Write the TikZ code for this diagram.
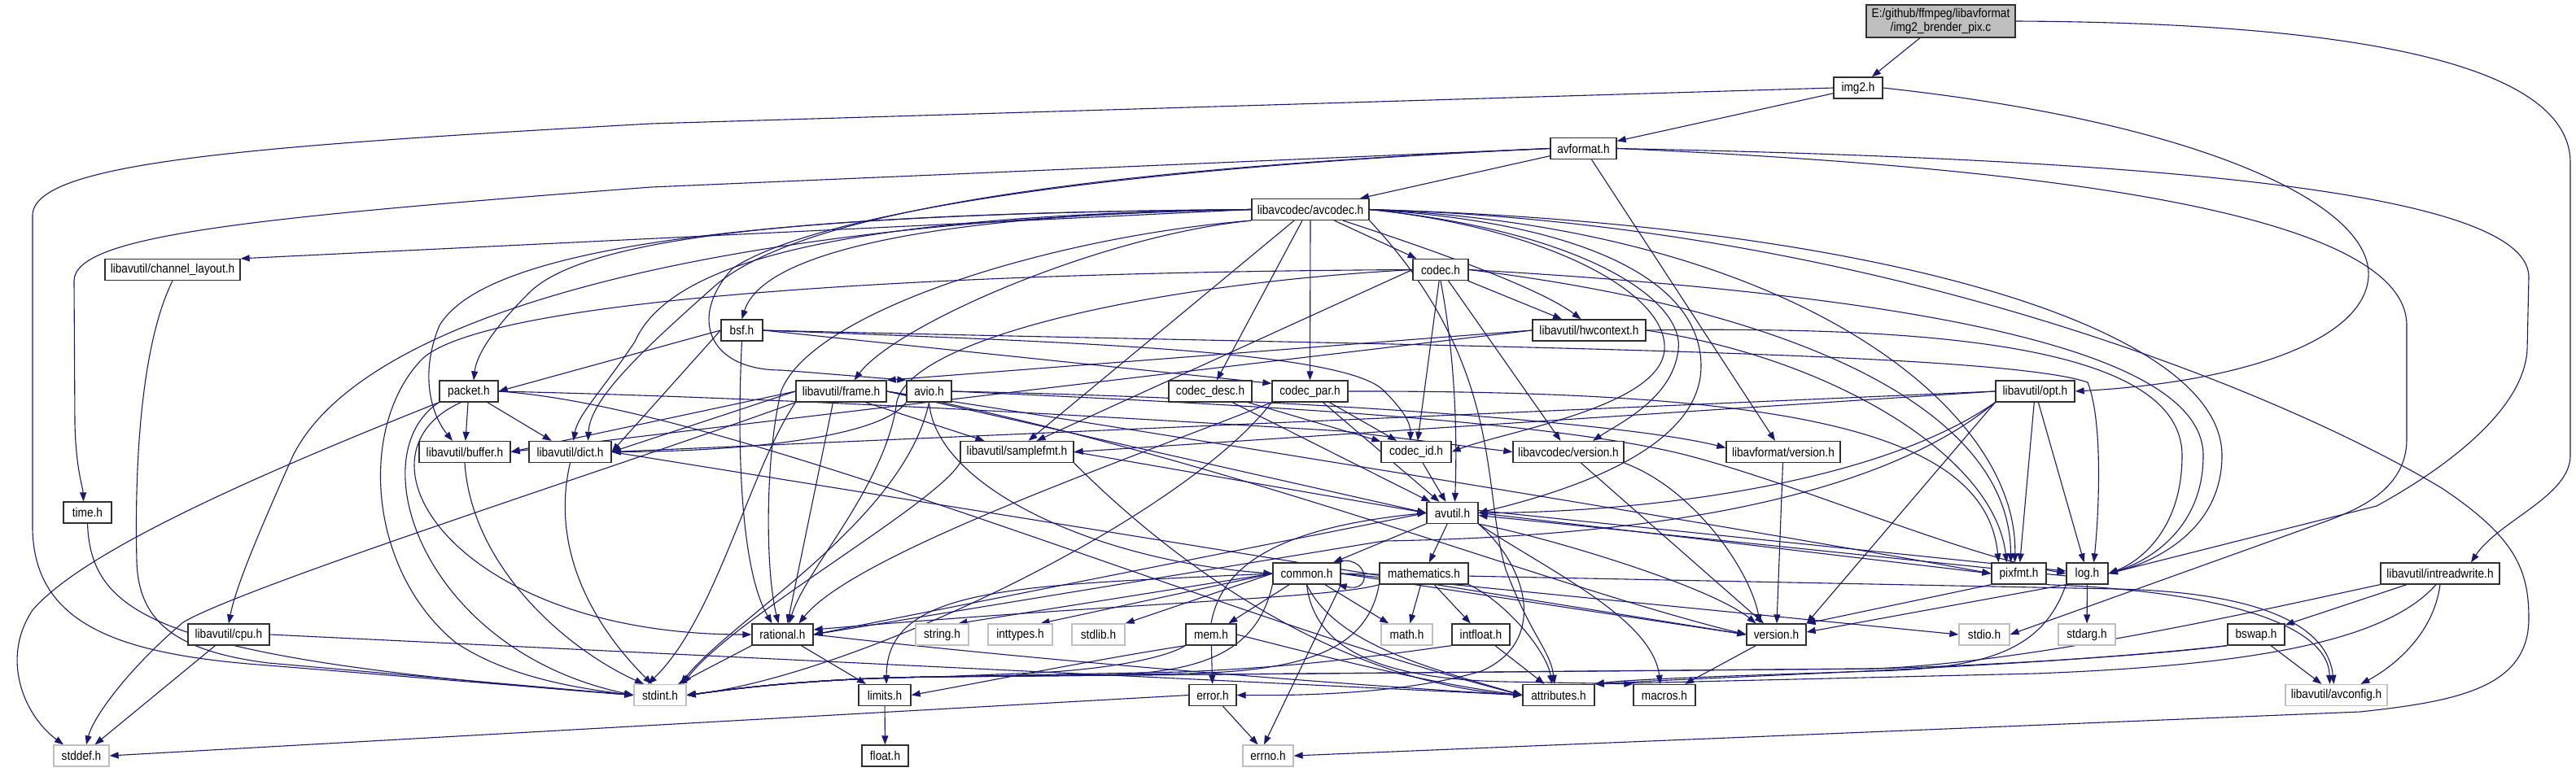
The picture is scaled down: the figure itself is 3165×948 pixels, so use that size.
\documentclass[tikz,border=0pt]{standalone}
\usepackage{fontspec}
\setmainfont{Liberation Sans}[FakeStretch=0.88]
\usetikzlibrary{arrows.meta}
\definecolor{edgec}{HTML}{191970}
\definecolor{greyc}{HTML}{BFBFBF}
\definecolor{boxc}{HTML}{303030}
\pgfdeclarelayer{bg}
\pgfdeclarelayer{edges}
\pgfsetlayers{bg,edges,main}
\begin{document}
\begin{tikzpicture}[x=1pt,y=-1pt,
  nbox/.style={draw=boxc, line width=1.3pt, fill=white, minimum height=26pt, inner sep=0pt, font=\fontsize{15.5}{17}\selectfont},
  xbox/.style={nbox, draw=greyc},
  ar/.style={draw=edgec, line width=1.1pt, -{Triangle[length=11pt,width=8pt]}}]
\begin{pgfonlayer}{bg}
\fill[white] (0,0) rectangle (3165,948);
\end{pgfonlayer}
\useasboundingbox (0,0) rectangle (3165,948);
% ---------------- nodes
\node[nbox, fill=greyc, align=center, minimum width=183pt, minimum height=40pt] (main) at (2384.5,26) {E:/github/ffmpeg/libavformat\\/img2\_brender\_pix.c};
\node[nbox, minimum width=60pt] (img2) at (2283,108) {img2.h};
\node[nbox, minimum width=81pt] (avformat) at (1945.5,182.5) {avformat.h};
\node[nbox, minimum width=144pt] (avcodec) at (1610,257.5) {libavcodec/avcodec.h};
\node[nbox, minimum width=166pt] (chl) at (212,331.5) {libavutil/channel\_layout.h};
\node[nbox, minimum width=68pt] (codec) at (1770,331.5) {codec.h};
\node[nbox, minimum width=51pt] (bsf) at (911.5,406) {bsf.h};
\node[nbox, minimum width=139pt] (hwctx) at (1952.5,406) {libavutil/hwcontext.h};
\node[nbox, minimum width=72pt] (packet) at (576,481) {packet.h};
\node[nbox, minimum width=111pt] (frame) at (1033.5,481) {libavutil/frame.h};
\node[nbox, minimum width=55pt] (avio) at (1141.5,481) {avio.h};
\node[nbox, minimum width=102pt] (cdesc) at (1487,481) {codec\_desc.h};
\node[nbox, minimum width=93pt] (cpar) at (1609.5,481) {codec\_par.h};
\node[nbox, minimum width=97pt] (opt) at (2500.5,481) {libavutil/opt.h};
\node[nbox, minimum width=112pt] (buffer) at (571,555.5) {libavutil/buffer.h};
\node[nbox, minimum width=101pt] (dict) at (700.5,555.5) {libavutil/dict.h};
\node[nbox, minimum width=139pt] (sfmt) at (1249.5,555.5) {libavutil/samplefmt.h};
\node[nbox, minimum width=86pt] (cid) at (1740,555.5) {codec\_id.h};
\node[nbox, minimum width=136pt] (lcver) at (1927,555.5) {libavcodec/version.h};
\node[nbox, minimum width=140pt] (lfver) at (2191,555.5) {libavformat/version.h};
\node[nbox, minimum width=59pt] (timeh) at (107.5,630) {time.h};
\node[nbox, minimum width=63pt] (avutil) at (1784.5,630.5) {avutil.h};
\node[nbox, minimum width=83pt] (common) at (1605.5,705) {common.h};
\node[nbox, minimum width=109pt] (mathh) at (1749.5,705) {mathematics.h};
\node[nbox, minimum width=67pt] (pixfmt) at (2480.5,705) {pixfmt.h};
\node[nbox, minimum width=51pt] (logh) at (2564.5,705) {log.h};
\node[nbox, minimum width=146pt] (irw) at (2998,705) {libavutil/intreadwrite.h};
\node[nbox, minimum width=100pt] (cpu) at (281,780) {libavutil/cpu.h};
\node[nbox, minimum width=75pt] (rational) at (961.5,780) {rational.h};
\node[xbox, minimum width=65pt] (stringh) at (1157.5,780) {string.h};
\node[xbox, minimum width=79pt] (inttypes) at (1253.5,780) {inttypes.h};
\node[xbox, minimum width=65pt] (stdlib) at (1349.5,780) {stdlib.h};
\node[nbox, minimum width=62pt] (mem) at (1488,780) {mem.h};
\node[xbox, minimum width=63pt] (mathsys) at (1728.5,780) {math.h};
\node[nbox, minimum width=71pt] (intfloat) at (1819.5,780) {intfloat.h};
\node[nbox, minimum width=73pt] (version) at (2182.5,780) {version.h};
\node[xbox, minimum width=62pt] (stdio) at (2438,780) {stdio.h};
\node[xbox, minimum width=70pt] (stdarg) at (2564,780) {stdarg.h};
\node[nbox, minimum width=70pt] (bswap) at (2772,780) {bswap.h};
\node[xbox, minimum width=64pt] (stdint) at (811,854.5) {stdint.h};
\node[nbox, minimum width=64pt] (limits) at (1087,854.5) {limits.h};
\node[nbox, minimum width=58pt] (errorh) at (1490,854.5) {error.h};
\node[nbox, minimum width=88pt] (attr) at (1915,854.5) {attributes.h};
\node[nbox, minimum width=76pt] (macros) at (2045,854.5) {macros.h};
\node[xbox, minimum width=125pt] (avconfig) at (2870.5,854.5) {libavutil/avconfig.h};
\node[xbox, minimum width=68pt] (stddef) at (100,929) {stddef.h};
\node[nbox, minimum width=57pt] (floath) at (1087.5,929) {float.h};
\node[xbox, minimum width=62pt] (errno) at (1558,929) {errno.h};
% ---------------- edges
\begin{pgfonlayer}{edges}
% main
\draw[ar] (main) -- (img2);
\draw[ar] (main.east) .. controls (2900,28) and (3158,80) .. (3158,200) -- (3158,560) .. controls (3158,610) and (3070,640) .. ([xshift=38pt]irw.north);
% img2
\draw[ar] (img2) -- (avformat);
\draw[ar] (img2.west) -- (800,152) .. controls (300,180) and (40,200) .. (40,265) -- (40,650) .. controls (42,770) and (150,805) .. (330,818) -- (stdint.west);
\draw[ar] (img2.east) .. controls (2700,150) and (2915,250) .. (2910,340) .. controls (2905,420) and (2750,470) .. (opt.east);
% avformat
\draw[ar] (avformat) -- (avcodec);
\draw[ar] ([xshift=10pt]avformat.south) -- ([xshift=-10pt]lfver.north);
\draw[ar] (avformat.west) -- (800,230) .. controls (300,268) and (92,290) .. (91,345) -- (92,520) .. controls (93,575) and (102,600) .. ([xshift=-5pt]timeh.north);
\draw[ar] (avformat.west) .. controls (1400,205) and (1000,250) .. (880,350) .. controls (790,430) and (725,490) .. ([xshift=22pt]dict.north);
\draw[ar] (avformat.west) .. controls (1300,210) and (990,270) .. (900,330) .. controls (845,390) and (870,455) .. (960,455) -- (avio.north west);
\draw[ar] (avformat.east) .. controls (2600,195) and (3105,230) .. (3107,340) -- (3105,430) .. controls (3100,520) and (2960,600) .. (2920,622) -- (logh.east);
\draw[ar] (avformat.east) .. controls (2500,205) and (2957,260) .. (2957,400) -- (2957,540) .. controls (2957,600) and (2900,625) .. (2860,640) -- (stdio.east);
% avcodec
\draw[ar] (avcodec.east) .. controls (2300,275) and (2800,480) .. (3000,600) .. controls (3090,660) and (3107,700) .. (3107,760) .. controls (3107,845) and (3020,862) .. (2900,875) -- (errno.east);
\draw[ar] (avcodec.south) -- (cpar.north);
\draw[ar] (avcodec) -- (codec);
\draw[ar] ([xshift=-10pt]avcodec.south) -- ([xshift=8pt]cdesc.north);
\draw[ar] ([xshift=-20pt]avcodec.south) -- ([xshift=14pt]sfmt.north);
\draw[ar] (avcodec.west) -- (chl.north east);
\draw[ar] (avcodec.south west) .. controls (1350,290) and (1100,400) .. ([xshift=16pt]frame.north);
\draw[ar] (avcodec.west) .. controls (1200,262) and (940,300) .. (bsf.north);
\draw[ar] (avcodec.west) .. controls (1000,262) and (720,290) .. (650,360) .. controls (600,410) and (585,440) .. ([xshift=6pt]packet.north);
\draw[ar] (avcodec.west) .. controls (950,262) and (600,300) .. (540,400) .. controls (515,460) and (530,510) .. ([xshift=-15pt]buffer.north);
\draw[ar] (avcodec.west) .. controls (1000,265) and (820,330) .. (780,420) .. controls (740,480) and (710,510) .. ([xshift=4pt]dict.north);
\draw[ar] (avcodec.west) .. controls (900,270) and (450,380) .. (360,560) .. controls (320,650) and (290,720) .. (cpu.north);
\draw[ar] (avcodec.south west) .. controls (1300,290) and (1000,380) .. (960,480) .. controls (940,560) and (940,700) .. ([xshift=-5pt]rational.north);
\draw[ar] ([xshift=40pt]avcodec.south) .. controls (1800,320) and (1900,360) .. ([xshift=-10pt]hwctx.north);
\draw[ar] (avcodec.east) .. controls (1900,280) and (2050,360) .. (2045,430) .. controls (2040,500) and (1850,530) .. (cid.east);
\draw[ar] (avcodec.east) .. controls (1950,285) and (2070,370) .. (2062,430) .. controls (2055,490) and (1990,520) .. ([xshift=30pt]lcver.north);
\draw[ar] (avcodec.east) .. controls (1960,275) and (2090,350) .. (2090,450) .. controls (2090,560) and (1900,610) .. (avutil.east);
\draw[ar] (avcodec.south east) .. controls (1850,450) and (1820,600) .. (1850,700) .. controls (1880,780) and (1905,800) .. ([xshift=-5pt]attr.north);
\draw[ar] (avcodec.east) .. controls (2300,275) and (2730,400) .. (2730,560) .. controls (2730,650) and (2650,690) .. (logh.east);
\draw[ar] (avcodec.east) .. controls (2200,280) and (2480,500) .. ([xshift=-5pt]pixfmt.north);
% codec
\draw[ar] (codec) -- (hwctx);
\draw[ar] (codec) -- (cid);
\draw[ar] (codec) -- (lcver);
\draw[ar] (codec.south) .. controls (1790,450) and (1790,550) .. ([xshift=3pt]avutil.north);
\draw[ar] (codec.west) -- ([xshift=24pt]sfmt.north);
\draw[ar] (codec.west) .. controls (1100,335) and (600,370) .. (520,440) .. controls (440,520) and (450,700) .. (560,790) .. controls (620,830) and (700,845) .. (stdint.west);
\draw[ar] (codec.west) .. controls (1400,350) and (1105,420) .. (1101,500) .. controls (1085,600) and (990,700) .. ([xshift=8pt]rational.north);
\draw[ar] (codec.east) .. controls (2300,360) and (2707,420) .. (2707,560) .. controls (2707,650) and (2640,690) .. (logh.east);
\draw[ar] (codec.east) .. controls (2200,380) and (2470,500) .. ([xshift=-10pt]pixfmt.north);
% codec_desc, codec_par, codec_id
\draw[ar] (cdesc) -- (avutil);
\draw[ar] (cdesc) -- (cid);
\draw[ar] (cpar) -- (cid);
\draw[ar] (cpar) -- (avutil);
\draw[ar] (cpar.east) .. controls (2200,480) and (2440,530) .. ([xshift=-25pt]pixfmt.north);
\draw[ar] (cpar.south west) .. controls (1400,560) and (1050,680) .. ([xshift=20pt]rational.north);
\draw[ar] (cpar.south west) .. controls (1450,640) and (1050,830) .. (stdint.east);
\draw[ar] (cid) -- (avutil);
% bsf
\draw[ar] (bsf.west) -- (packet.east);
\draw[ar] (bsf.west) -- (dict.east);
\draw[ar] (bsf.south) .. controls (905,550) and (910,700) .. ([xshift=-13pt]rational.north);
\draw[ar] (bsf.east) -- ([yshift=-4pt]cpar.north west);
\draw[ar] (bsf.east) .. controls (1300,420) and (1650,430) .. (1700,480) .. controls (1725,505) and (1733,520) .. ([xshift=-7pt]cid.north);
\draw[ar] (bsf.east) .. controls (1700,425) and (2450,430) .. (2565,470) .. controls (2585,520) and (2578,640) .. ([xshift=8pt]logh.north);
% packet
\draw[ar] (packet) -- (buffer);
\draw[ar] (packet) -- (dict);
\draw[ar] (packet.east) .. controls (1000,490) and (1400,515) .. (1650,530) -- (lcver.west);
\draw[ar] (packet.east) .. controls (900,500) and (1500,760) .. (attr.west);
\draw[ar] (packet.south west) .. controls (440,560) and (520,800) .. (stdint.west);
\draw[ar] (packet.235) .. controls (420,560) and (560,780) .. (rational.west);
\draw[ar] (packet.south west) .. controls (300,590) and (100,680) .. (40,750) .. controls (0,810) and (30,880) .. ([xshift=-22pt]stddef.north);
% frame
\draw[ar] (frame.south west) .. controls (800,560) and (300,720) .. (225,765) .. controls (160,820) and (115,880) .. ([xshift=6pt]stddef.north);
\draw[ar] (frame.south west) .. controls (920,580) and (880,760) .. ([xshift=-15pt]stdint.north);
\draw[ar] (frame.east) -- (avutil.west);
\draw[ar] (frame.west) -- (buffer.east);
\draw[ar] (frame.west) -- (dict.east);
\draw[ar] ([xshift=-10pt]frame.south) -- ([xshift=6pt]rational.north);
\draw[ar] ([xshift=30pt]frame.south) -- ([xshift=-40pt]sfmt.north);
\draw[ar] (frame.east) .. controls (1600,560) and (2200,660) .. (pixfmt.west);
\draw[ar] (frame.east) .. controls (1500,560) and (1900,720) .. (version.west);
% avio
\draw[ar] (avio.south) .. controls (1110,640) and (900,760) .. ([xshift=25pt]stdint.north);
\draw[ar] (avio.south) .. controls (1150,600) and (1350,690) .. (common.west);
\draw[ar] (avio.south west) .. controls (1080,540) and (900,555) .. (dict.east);
\draw[ar] (avio.east) .. controls (1600,500) and (1900,520) .. (2058,556) .. controls (2200,590) and (2400,680) .. (logh.west);
\draw[ar] (avio.east) .. controls (1600,490) and (2000,520) .. ([yshift=5pt]lfver.west);
% samplefmt
\draw[ar] (sfmt.south west) .. controls (1150,620) and (900,760) .. ([xshift=28pt]stdint.north);
\draw[ar] (sfmt.east) -- (avutil.west);
\draw[ar] (sfmt.south east) .. controls (1450,700) and (1650,840) .. (attr.west);
% hwcontext
\draw[ar] (hwctx.west) -- (buffer.east);
\draw[ar] (hwctx.west) -- (frame.north east);
\draw[ar] (hwctx.east) .. controls (2400,400) and (2681,430) .. (2681,560) .. controls (2681,650) and (2630,690) .. (logh.east);
\draw[ar] (hwctx.east) .. controls (2250,440) and (2450,560) .. ([xshift=-15pt]pixfmt.north);
% buffer, dict, channel_layout, cpu, time
\draw[ar] (buffer.south) .. controls (580,700) and (700,800) .. ([xshift=-20pt]stdint.north);
\draw[ar] (dict.south) .. controls (670,700) and (760,800) .. ([xshift=-10pt]stdint.north);
\draw[ar] (dict.east) -- (version.west);
\draw[ar] (chl.south) .. controls (175,420) and (165,560) .. (168,690) .. controls (170,760) and (210,800) .. (330,815) -- (stdint.west);
\draw[ar] (cpu) -- (stddef);
\draw[ar] (cpu.east) -- (attr.west);
\draw[ar] (timeh.south) .. controls (112,760) and (200,810) .. (stdint.west);
% avutil
\draw[ar] (avutil) -- (common);
\draw[ar] (avutil) -- (mathh);
\draw[ar] (avutil.west) -- (rational.east);
\draw[ar] (avutil.south east) .. controls (1900,660) and (2100,720) .. ([xshift=-25pt]version.north);
\draw[ar] (avutil.south east) .. controls (1900,700) and (2030,760) .. ([xshift=-5pt]macros.north);
\draw[ar] ([yshift=3pt]avutil.east) -- ([yshift=3pt]logh.west);
\draw[ar] ([yshift=-3pt]logh.west) -- ([yshift=-3pt]avutil.east);
\draw[ar] (avutil.east) -- (pixfmt.west);
\draw[ar] (avutil.south east) .. controls (1880,700) and (1900,790) .. (1820,825) .. controls (1720,855) and (1580,855) .. (errorh.east);
% common
\draw[ar] (common.west) -- ([xshift=20pt]stringh.north);
\draw[ar] (common.west) -- ([xshift=25pt]inttypes.north);
\draw[ar] (common.west) -- (stdlib.north east);
\draw[ar] (common) -- (mem);
\draw[ar] (common.west) .. controls (1250,720) and (1090,720) .. ([xshift=2pt]limits.north);
\draw[ar] (common.south west) .. controls (1545,800) and (1480,828) .. (1350,830) -- (1150,832) .. controls (980,834) and (880,850) .. (stdint.east);
\draw[ar] (common) -- (mathsys);
\draw[ar] (common.south) .. controls (1640,790) and (1750,820) .. (attr.west);
\draw[ar] (common.south) .. controls (1615,800) and (1700,835) .. (1850,838) -- (macros.north west);
\draw[ar] (common.east) -- (version.west);
\draw[ar] (common.east) -- (2600,724) .. controls (2780,728) and (2860,770) .. ([xshift=-3pt]avconfig.north);
\draw[ar] (common.east) -- (stdio.west);
\draw[ar] (common.south east) -- ([xshift=-5pt]errno.north);
\draw[ar] ([xshift=-8pt]common.north east) .. controls (1680,678) and (1690,730) .. ([xshift=-4pt]common.south east);
% rational
\draw[ar] (rational.south west) -- ([xshift=22pt]stdint.north);
\draw[ar] (rational) -- (limits);
\draw[ar] (rational.east) .. controls (1300,815) and (1700,845) .. (attr.west);
% mathematics
\draw[ar] (mathh) -- (mathsys);
\draw[ar] (mathh) -- (intfloat);
\draw[ar] (mathh.south east) .. controls (1850,740) and (1900,800) .. ([xshift=-8pt]attr.north);
\draw[ar] (mathh.south west) .. controls (1640,735) and (1400,740) .. ([yshift=6pt]rational.east);
\draw[ar] (mathh.south west) .. controls (1680,800) and (1600,826) .. (1450,828) -- (1150,832) .. controls (980,834) and (880,850) .. (stdint.east);
% intfloat
\draw[ar] (intfloat) -- (attr);
\draw[ar] (intfloat.south west) .. controls (1700,805) and (1600,820) .. (1450,826) -- (1150,832) .. controls (980,834) and (880,850) .. (stdint.east);
% mem
\draw[ar] (mem) -- (errorh);
\draw[ar] (mem.south west) .. controls (1350,810) and (1200,840) .. (limits.east);
\draw[ar] (mem.east) .. controls (1600,800) and (1750,840) .. (attr.west);
\draw[ar] (mem.south west) .. controls (1430,810) and (1350,825) .. (1250,828) -- (1150,832) .. controls (980,834) and (880,850) .. (stdint.east);
\draw[ar] (mem.north) .. controls (1500,700) and (1560,650) .. (avutil.west);
% error, version, log, pixfmt, limits
\draw[ar] (errorh) -- (errno);
\draw[ar] (errorh.west) -- (stddef.east);
\draw[ar] (version) -- (macros);
\draw[ar] (logh) -- (stdarg);
\draw[ar] (logh.south west) .. controls (2510,800) and (2440,822) .. (2300,825) .. controls (2150,830) and (2000,835) .. (attr.north east);
\draw[ar] (logh.south west) -- ([yshift=3pt]version.east);
\draw[ar] (pixfmt.south west) -- (version.north east);
\draw[ar] (pixfmt.south east) .. controls (2700,725) and (2860,760) .. ([xshift=-8pt]avconfig.north);
\draw[ar] (limits) -- (floath);
% opt
\draw[ar] (opt.west) -- (dict.east);
\draw[ar] (opt.west) -- (sfmt.east);
\draw[ar] (opt.south west) .. controls (2300,600) and (2000,630) .. (avutil.east);
\draw[ar] (opt.south west) .. controls (2300,620) and (2000,660) .. (1700,665) -- (rational.east);
\draw[ar] (opt) -- (logh);
\draw[ar] (opt) -- (pixfmt);
\draw[ar] (opt.south west) -- (version.north east);
% intreadwrite, bswap
\draw[ar] (irw) -- (bswap);
\draw[ar] (irw.south) .. controls (2990,780) and (2940,820) .. ([xshift=30pt]avconfig.north);
\draw[ar] (irw.250) .. controls (2930,790) and (2760,818) .. (2500,828) -- (attr.north east);
\draw[ar] (irw.south west) .. controls (2800,745) and (2500,815) .. (2300,822) -- (1150,832) .. controls (980,834) and (880,850) .. (stdint.east);
\draw[ar] (bswap) -- (avconfig);
\draw[ar] (bswap.south west) .. controls (2500,820) and (2150,830) .. (attr.north east);
\draw[ar] (bswap.south west) .. controls (2650,805) and (2450,818) .. (2300,822) -- (1150,832) .. controls (980,834) and (880,850) .. (stdint.east);
% versions
\draw[ar] (lcver) -- (version);
\draw[ar] (lcver.south east) .. controls (2080,600) and (2150,700) .. ([xshift=-20pt]version.north);
\draw[ar] (lfver) -- (version);
\end{pgfonlayer}
\end{tikzpicture}
\end{document}
